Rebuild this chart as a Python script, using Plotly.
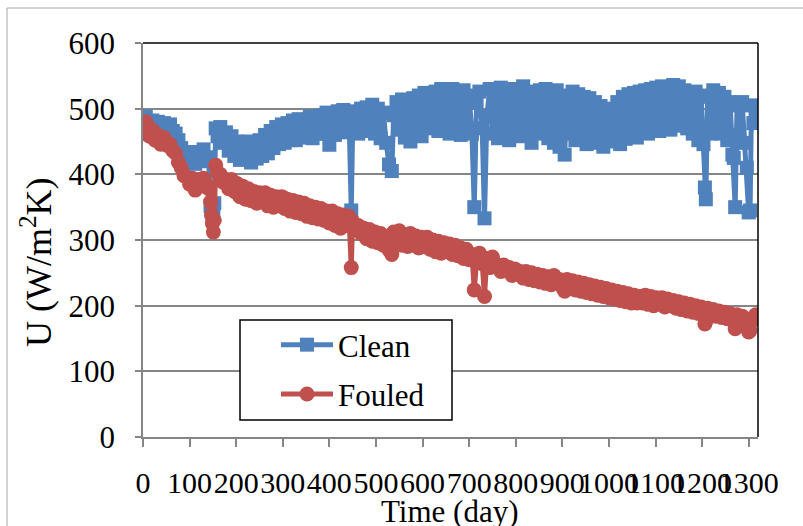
import plotly.graph_objects as go

days = [0, 3, 6, 10, 14, 20, 26, 32, 38, 45, 52, 58, 64, 70, 76, 82, 88, 94, 100, 106,
        112, 118, 124, 130, 136, 141, 145, 147, 149, 151, 153, 156, 160, 166, 172, 178, 184, 190, 196, 202,
        208, 214, 220, 226, 232, 238, 244, 250, 256, 262, 268, 274, 280, 286, 292, 298, 304, 310, 316, 322,
        328, 334, 340, 346, 352, 358, 364, 370, 376, 382, 388, 394, 400, 406, 412, 418, 424, 430, 436, 442,
        447, 450, 456, 462, 468, 474, 480, 486, 492, 498, 504, 510, 516, 522, 528, 534, 538, 544, 550, 556,
        562, 568, 574, 580, 586, 592, 598, 604, 610, 616, 622, 628, 634, 640, 646, 652, 658, 664, 670, 676,
        682, 688, 694, 700, 706, 711, 716, 722, 728, 733, 738, 744, 750, 756, 762, 768, 774, 780, 786, 792,
        798, 804, 810, 816, 822, 828, 834, 840, 846, 852, 858, 864, 870, 876, 882, 888, 894, 900, 905, 910,
        916, 922, 928, 934, 940, 946, 952, 958, 964, 970, 976, 982, 988, 994, 1000, 1006, 1012, 1018, 1024, 1030,
        1036, 1042, 1048, 1054, 1060, 1066, 1072, 1078, 1084, 1090, 1096, 1102, 1108, 1114, 1120, 1126, 1132, 1138, 1144, 1150,
        1156, 1162, 1168, 1174, 1180, 1186, 1192, 1198, 1203, 1206, 1208, 1212, 1218, 1224, 1230, 1236, 1242, 1248, 1254, 1260,
        1265, 1268, 1271, 1275, 1280, 1286, 1292, 1296, 1300, 1303, 1306, 1310, 1315]

clean = [462, 482, 488, 470, 466, 482, 470, 480, 464, 478, 468, 476, 466, 462, 452, 440, 428, 418, 434, 424,
         416, 434, 424, 438, 426, 420, 352, 345, 338, 342, 356, 470, 458, 472, 448, 464, 436, 458, 428, 450,
         422, 446, 426, 450, 418, 444, 424, 452, 428, 460, 432, 466, 440, 472, 446, 476, 448, 478, 452, 482,
         452, 484, 456, 482, 460, 488, 455, 486, 462, 490, 462, 494, 445, 488, 460, 496, 464, 498, 468, 494,
         345, 470, 496, 462, 500, 466, 502, 468, 506, 462, 500, 455, 494, 448, 415, 405, 490, 510, 468, 514,
         456, 508, 450, 516, 462, 520, 458, 524, 470, 518, 474, 526, 466, 530, 472, 524, 462, 530, 478, 526,
         460, 528, 472, 520, 462, 350, 510, 526, 470, 333, 488, 530, 462, 528, 455, 532, 470, 526, 452, 530,
         464, 524, 458, 534, 468, 526, 448, 518, 462, 528, 470, 530, 455, 524, 448, 528, 442, 520, 430, 514,
         462, 526, 452, 522, 458, 518, 446, 516, 455, 510, 448, 504, 442, 500, 450, 498, 456, 510, 446, 518,
         454, 522, 462, 524, 456, 526, 468, 528, 462, 530, 470, 532, 466, 534, 474, 532, 468, 536, 474, 534,
         478, 528, 470, 524, 462, 526, 452, 518, 446, 380, 362, 520, 462, 528, 470, 524, 462, 518, 452, 510,
         430, 425, 350, 505, 460, 510, 448, 410, 342, 345, 505, 478, 498]

fouled = [462, 472, 480, 470, 458, 468, 452, 460, 446, 456, 444, 446, 436, 432, 418, 410, 398, 396, 385, 394,
          376, 392, 382, 394, 384, 378, 358, 338, 325, 312, 330, 414, 402, 400, 388, 392, 378, 392, 374, 386,
          366, 382, 362, 378, 360, 374, 356, 372, 358, 372, 352, 368, 350, 366, 352, 366, 348, 362, 344, 360,
          342, 358, 340, 356, 336, 352, 334, 350, 332, 348, 330, 344, 326, 344, 322, 340, 318, 338, 322, 336,
          258, 328, 316, 322, 310, 318, 302, 316, 298, 312, 296, 310, 292, 300, 285, 278, 312, 298, 314, 292,
          308, 290, 310, 292, 306, 288, 304, 290, 304, 286, 300, 282, 298, 280, 296, 282, 294, 278, 292, 276,
          288, 272, 286, 270, 278, 224, 266, 280, 264, 214, 272, 258, 274, 260, 262, 252, 262, 254, 258, 246,
          256, 248, 252, 242, 252, 240, 250, 238, 248, 236, 246, 234, 244, 232, 246, 236, 240, 228, 222, 240,
          228, 238, 224, 236, 222, 234, 220, 232, 218, 230, 216, 228, 214, 226, 212, 224, 210, 222, 208, 220,
          206, 218, 204, 216, 204, 214, 204, 216, 202, 214, 200, 212, 202, 212, 198, 210, 200, 208, 196, 206,
          194, 204, 192, 202, 190, 200, 188, 198, 190, 172, 176, 196, 186, 194, 184, 192, 182, 190, 180, 188,
          178, 182, 165, 186, 178, 184, 174, 172, 160, 162, 180, 178, 186]

y_ticks = [0, 100, 200, 300, 400, 500, 600]
x_ticks = list(range(0, 1301, 100))

BLUE = "#4F81BD"
RED = "#C0504D"
GRID = "#868686"
FONT = "Liberation Serif, Times New Roman, serif"

fig = go.Figure()
fig.add_trace(go.Scatter(
    x=days, y=clean, name="Clean", mode="lines+markers", legendgroup="a",
    line=dict(color=BLUE, width=5),
    marker=dict(symbol="square", size=14, color=BLUE),
))
fig.add_trace(go.Scatter(
    x=days, y=fouled, name="Fouled", mode="lines+markers", legendgroup="b",
    line=dict(color=RED, width=5),
    marker=dict(symbol="circle", size=15, color=RED),
))

L, R, T, B = 143, 45, 43, 89
W, H = 803, 526
pw, ph = W - L - R, H - T - B

def px_x(p):
    return (p - L) / pw

def px_y(p):
    return (H - B - p) / ph

shapes = [
    dict(type="rect", xref="paper", yref="paper", x0=px_x(7), x1=px_x(812), y0=px_y(540), y1=px_y(8),
         line=dict(color="#A6A6A6", width=1), fillcolor="rgba(0,0,0,0)", layer="below"),
    dict(type="line", xref="paper", yref="paper", x0=0, x1=1, y0=1, y1=1, line=dict(color="black", width=1.5)),
    dict(type="line", xref="paper", yref="paper", x0=1, x1=1, y0=0, y1=1, line=dict(color="black", width=1.5)),
    dict(type="rect", xref="paper", yref="paper", x0=px_x(240), x1=px_x(452), y0=px_y(420), y1=px_y(320),
         line=dict(color="black", width=1.5), fillcolor="white", layer="above"),
]

fig.update_layout(
    width=W, height=H,
    margin=dict(l=L, r=R, t=T, b=B),
    paper_bgcolor="white", plot_bgcolor="white",
    font=dict(family=FONT, color="black", size=30),
    showlegend=True,
    legend=dict(x=px_x(276), y=px_y(318), xanchor="left", yanchor="top",
                bgcolor="rgba(0,0,0,0)", borderwidth=0,
                font=dict(family=FONT, size=31), tracegroupgap=6, itemwidth=52),
    shapes=shapes,
    xaxis=dict(range=[0, 1320], tickvals=x_ticks, ticktext=[str(v) for v in x_ticks],
               tickangle=0, showgrid=False, zeroline=False,
               showline=True, linecolor=GRID, linewidth=1.5,
               ticks="outside", ticklen=8, tickcolor=GRID, tickwidth=1.5,
               tickfont=dict(family=FONT, size=30), ticklabelstandoff=10),
    yaxis=dict(range=[0, 600], tickvals=y_ticks, showgrid=True, gridcolor=GRID, gridwidth=1.5,
               zeroline=False, showline=True, linecolor=GRID, linewidth=1.5,
               ticks="outside", ticklen=6, tickcolor=GRID, tickwidth=1.5,
               tickfont=dict(family=FONT, size=31), ticklabelstandoff=14),
    annotations=[
        dict(text="Time (day)", xref="paper", yref="paper", x=px_x(450), y=px_y(511),
             showarrow=False, font=dict(family=FONT, size=31), xanchor="center", yanchor="middle"),
        dict(text="U (W/m<sup>2</sup>K)", xref="paper", yref="paper", x=px_x(36), y=px_y(262),
             showarrow=False, textangle=-90, font=dict(family=FONT, size=36), xanchor="center", yanchor="middle"),
    ],
)

fig.write_html("out.html", config={"displayModeBar": False},
               post_script="document.body.style.margin='0';document.body.style.overflow='hidden';")
